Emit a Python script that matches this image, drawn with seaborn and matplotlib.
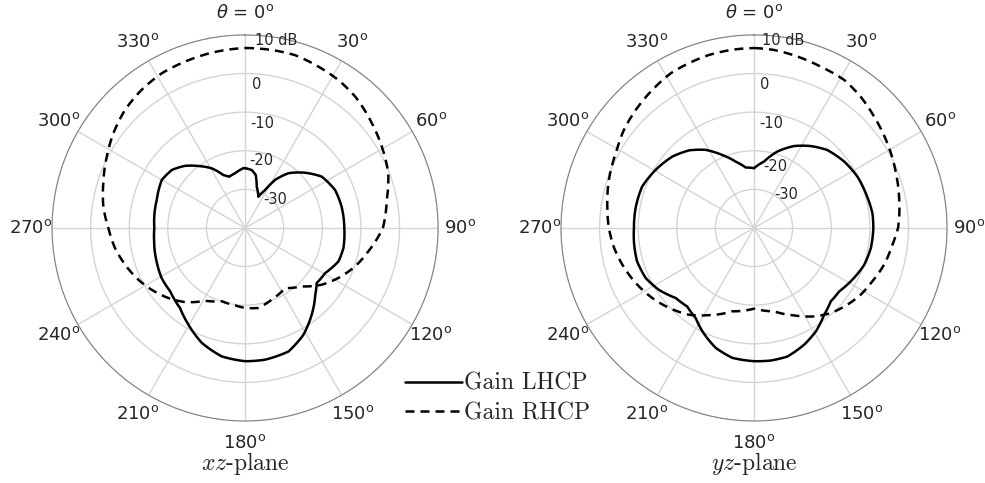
import numpy as np
import pandas as pd
import matplotlib
matplotlib.use("Agg")
import matplotlib.pyplot as plt
import seaborn as sns
from matplotlib.font_manager import FontProperties

# xz-plane, angles in degrees (clockwise from top), gains in dB
xz_lhcp_deg = [0, 6.6, 11.4, 15.8, 23.0, 27.8, 32.0, 38.4, 47.3, 56.2, 67.1, 77.6, 90,
               101.5, 109.6, 119.4, 127.5, 133.6, 142.4, 151.3, 160.6, 171.4, 180,
               190.3, 200.6, 210.4, 219.1, 229.8, 239.0, 249.3, 261.7, 270, 287.6,
               300.0, 308.4, 315.9, 323.0, 330.8, 337.7, 342.7, 349.6, 358.4, 360]
xz_lhcp_db = [-24.5, -24.9, -26.0, -28.9, -31.2, -28.9, -25.3, -21.9, -18.9, -16.1, -14.7,
              -14.4, -14.3, -14.0, -14.3, -16.2, -16.6, -14.9, -11.7, -8.5, -6.1, -5.5,
              -5.5, -6.2, -8.2, -11.0, -13.3, -14.6, -14.8, -15.5, -16.2, -16.5, -16.0,
              -15.1, -15.8, -17.6, -19.9, -22.3, -25.2, -26.1, -25.6, -24.5, -24.5]
xz_rhcp_deg = [0, 8.5, 16.1, 24.4, 32.2, 40.0, 50.4, 59.3, 69.1, 78.8, 90, 100.7, 109.2,
               118.2, 126.5, 135.8, 146.3, 159.6, 170.6, 180, 187.4, 197.6, 208.8, 219.0,
               227.6, 236.5, 244.1, 253.0, 261.3, 270, 278.5, 287.5, 297.3, 305.7, 314.5,
               323.2, 331.7, 340.2, 349.2, 360]
xz_rhcp_db = [6.6, 6.6, 6.6, 5.9, 5.3, 4.4, 2.6, 1.2, -0.3, -2.6, -4.3, -7.5, -9.8, -12.6,
              -15.3, -18.9, -21.3, -20.2, -19.0, -19.3, -19.8, -20.1, -18.5, -15.3, -13.1,
              -11.0, -9.3, -7.5, -5.9, -4.6, -2.9, -1.5, 0.3, 2.0, 3.6, 4.7, 5.5, 5.8, 6.2,
              6.6]

# yz-plane
yz_lhcp_deg = [0, 8.6, 17.0, 26.0, 34.7, 43.2, 53.6, 63.6, 74.6, 82.9, 90, 99.7, 108.5,
               118.9, 126.7, 133.7, 141.1, 149.1, 156.8, 165.5, 172.8, 180, 189.5, 197.7,
               206.6, 212.9, 220.4, 228.2, 237.0, 245.2, 254.1, 263.7, 270, 279.8, 290.3,
               300.5, 311.1, 320.1, 328.2, 336.5, 344.6, 352.2, 360]
yz_lhcp_db = [-24.5, -22.6, -19.3, -16.4, -14.2, -12.3, -11.0, -10.1, -9.6, -9.1, -9.1,
              -9.3, -9.9, -11.4, -12.5, -12.5, -11.1, -8.8, -7.1, -5.6, -5.4, -5.5, -5.9,
              -7.4, -10.1, -12.2, -13.3, -12.8, -10.6, -9.1, -8.5, -8.7, -8.9, -8.9, -9.1,
              -10.4, -11.9, -13.8, -16.2, -19.4, -22.2, -24.2, -24.5]
yz_rhcp_deg = [0, 6.4, 14.2, 22.5, 31.3, 39.1, 47.2, 57.6, 68.9, 79.1, 90, 96.9, 105.8,
               114.3, 122.0, 129.4, 137.9, 145.8, 155.4, 166.5, 180, 194.6, 207.3, 216.9,
               226.7, 235.5, 245.1, 254.4, 261.9, 270, 278.3, 288.3, 298.4, 307.0, 315.1,
               323.6, 331.7, 338.5, 345.4, 353.1, 360]
yz_rhcp_db = [6.6, 6.4, 5.8, 5.2, 4.9, 3.8, 2.4, 0.9, -0.6, -1.7, -2.7, -3.9, -5.0, -6.4,
              -7.4, -8.7, -10.3, -12.3, -15.1, -17.8, -19.1, -17.7, -14.6, -11.9, -9.8,
              -8.0, -6.2, -4.6, -3.4, -2.4, -1.6, -0.4, 0.7, 2.2, 3.3, 4.4, 5.5, 5.9, 6.3,
              6.5, 6.6]

theta_ticks = list(range(0, 360, 30))
theta_labels = [r"$\theta$ = 0$^\mathrm{o}$"] + [f"{t}$^\\mathrm{{o}}$" for t in theta_ticks[1:]]
r_ticks = [-30, -20, -10, 0, 10]
r_labels = ["-30", "-20", "-10", "0", "10 dB"]
planes = [r"$xz$-plane", r"$yz$-plane"]

# where the dB labels sit (theta deg, r) on each panel
r_label_pos = [
    [(31.8, -31.2), (3.4, -22.6), (2.7, -12.8), (2.8, -2.7), (3.1, 8.5)],
    [(31.2, -30.0), (8.4, -24.0), (2.7, -12.8), (2.4, -2.7), (2.5, 8.5)],
]


def draw(ax, lhcp_deg, lhcp_db, rhcp_deg, rhcp_db, title, lbl_pos):
    df_l = pd.DataFrame({"theta": np.deg2rad(lhcp_deg), "gain": lhcp_db})
    df_r = pd.DataFrame({"theta": np.deg2rad(rhcp_deg), "gain": rhcp_db})
    sns.lineplot(data=df_l, x="theta", y="gain", ax=ax, color="black", lw=1.8,
                 sort=False, label="Gain LHCP")
    sns.lineplot(data=df_r, x="theta", y="gain", ax=ax, color="black", lw=1.8,
                 ls=(0, (3.6, 2.4)), sort=False, label="Gain RHCP")
    # let the polar transform draw each segment as a curve, not a chord
    for line in ax.lines:
        line.get_path()._interpolation_steps = 12
    ax.set_theta_zero_location("N")
    ax.set_theta_direction(-1)
    ax.set_ylim(-40, 10)
    ax.set_yticks(r_ticks)
    ax.set_yticklabels([])
    ax.set_xticks(np.deg2rad(theta_ticks))
    ax.set_xticklabels(theta_labels, fontsize=13)
    ax.tick_params(axis="x", pad=5)
    ax.grid(True, color="#d4d4d4", lw=1.0)
    ax.spines["polar"].set_color("#808080")
    ax.spines["polar"].set_linewidth(0.8)
    ax.set_xlabel("")
    ax.set_ylabel("")
    for (t, r), txt in zip(lbl_pos, r_labels):
        ax.text(np.deg2rad(t), r, txt, ha="left", va="center", fontsize=10.5)
    ax.text(0.5, -0.11, title, transform=ax.transAxes, ha="center", va="center",
            fontsize=17, family="cmr10", math_fontfamily="cm")
    handles, labels = ax.get_legend_handles_labels()
    ax.get_legend().remove()
    return handles, labels


def main():
    sns.set_style("white")
    fig = plt.figure(figsize=(9.85, 4.83), dpi=100)
    ax1 = fig.add_axes([0.0528, 0.128, 0.392, 0.80], projection="polar")
    ax2 = fig.add_axes([0.5695, 0.128, 0.392, 0.80], projection="polar")

    handles, labels = draw(ax1, xz_lhcp_deg, xz_lhcp_db, xz_rhcp_deg, xz_rhcp_db,
                           planes[0], r_label_pos[0])
    draw(ax2, yz_lhcp_deg, yz_lhcp_db, yz_rhcp_deg, yz_rhcp_db, planes[1], r_label_pos[1])

    fig.legend(handles, labels, loc="center left", bbox_to_anchor=(0.411, 0.175),
               frameon=False, borderpad=0, borderaxespad=0, handlelength=2.4,
               handletextpad=0.1, labelspacing=0.3,
               prop=FontProperties(family="cmr10", size=17))
    fig.savefig("out.png", dpi=100)
    plt.close(fig)


if __name__ == "__main__":
    main()
